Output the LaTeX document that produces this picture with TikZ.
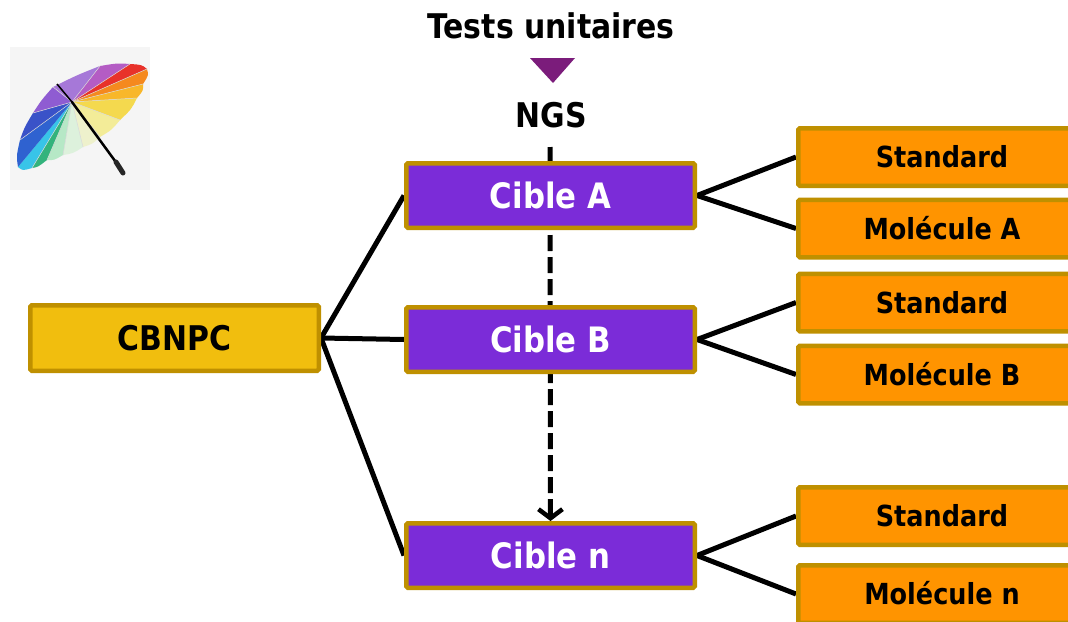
\documentclass[tikz,border=0pt]{standalone}
\usepackage{fontspec}
\setmainfont{DejaVu Sans}[FakeStretch=0.88]
\usetikzlibrary{arrows.meta,backgrounds,calc}
\definecolor{boxpurple}{HTML}{7B2CD8}
\definecolor{boxedge}{HTML}{BF9000}
\definecolor{boxgold}{HTML}{F1BE0E}
\definecolor{boxorange}{HTML}{FF9400}
\definecolor{tripurple}{HTML}{7B1C7B}
\definecolor{iconbg}{HTML}{F5F5F5}
\begin{document}
\begin{tikzpicture}[x=1pt,y=-1pt,
  box/.style={draw=boxedge, line width=4.5pt, rounded corners=1.5pt, inner sep=0pt, text depth=0pt},
  cible/.style={box, fill=boxpurple, text=white, font=\fontsize{35}{40}\selectfont\bfseries,
    minimum width=288.5pt, minimum height=64.5pt, text height=25.5pt},
  root/.style={box, fill=boxgold, text=black, font=\fontsize{34}{40}\selectfont\bfseries,
    minimum width=288.5pt, minimum height=65.5pt, text height=24.8pt},
  leaf/.style={box, fill=boxorange, text=black, font=\fontsize{29}{34}\selectfont\bfseries,
    minimum width=287.5pt, minimum height=57.5pt, text height=21.2pt},
  heading/.style={anchor=base, inner sep=0pt, font=\fontsize{34}{40}\selectfont\bfseries},
  link/.style={draw=black, line width=5pt},
  flow/.style={draw=black, line width=5pt, dash pattern=on 16pt off 6pt,
    -{Straight Barb[length=9pt,width=24pt,line width=4.5pt]}}
]
\useasboundingbox (0,0) rectangle (1068,621);

% umbrella icon: canopy panels fanning out from the hub, rims bulging slightly
\fill[iconbg] (10,47) rectangle (150,190);
\coordinate (hub) at (72,102);
\foreach \ax/\ay/\bx/\by/\c in {
  53/87/100/66/A678D8,
  100/66/130/64/B45CC4,
  130/64/147/69/E8322A,
  147/69/143/84/F5891E,
  143/84/137/98/F8B72A,
  137/98/120/120/F4D94E,
  120/120/100/137/F3EC98,
  100/137/83/147/EEF1CC,
  83/147/63/155/DDF1DC,
  63/155/47/160/B6E8C6,
  47/160/32/168/33B37C,
  32/168/18/167/38C4E8,
  18/167/20/140/2F62D0,
  20/140/33/113/3A52C8,
  33/113/53/87/8F5CD2} {
  \definecolor{panel}{HTML}{\c}
  \coordinate (rimmid) at ($(\ax,\ay)!0.5!(\bx,\by)$);
  \coordinate (rimctl) at ($(hub)!1.05!(rimmid)$);
  \fill[panel] (hub) -- (\ax,\ay) .. controls (rimctl) .. (\bx,\by) -- cycle;
}
\foreach \px/\py in {53/87,100/66,130/64,147/69,143/84,137/98,120/120,100/137,83/147,63/155,47/160,32/168,20/140,33/113}
  \draw[white!70!gray, line width=0.5pt] (hub) -- (\px,\py);
\draw[black, line width=2.5pt, line cap=round] (hub) -- (118,165);
\draw[black!85, line width=5pt, line cap=round] (116,162) -- (123,173);
\draw[black, line width=1.5pt] (hub) -- (57,84);

% title and marker
\node[heading] (title) at (551,38) {Tests unitaires};
\fill[tripurple] (530,58) -- (575,58) -- (553,83) -- cycle;
\node[heading] (ngs) at (551,127) {NGS};
\coordinate (ngsfoot) at (550,147);

% boxes
\node[root] (cbnpc) at (174.5,338) {CBNPC};
\node[cible] (ca) at (550.5,195.5) {Cible A};
\node[cible] (cb) at (550.5,339.5) {Cible B};
\node[cible] (cn) at (550.5,555.5) {Cible n};
\node[leaf] (sa) at (942,157) {Standard};
\node[leaf] (ma) at (942,228.5) {Molécule A};
\node[leaf] (sb) at (942,302.5) {Standard};
\node[leaf] (mb) at (942,374.5) {Molécule B};
\node[leaf] (sn) at (942,516) {Standard};
\node[leaf] (mn) at (942,594) {Molécule n};

% connectors behind the boxes
\begin{scope}[on background layer]
  \fill[white] (0,0) rectangle (1068,621);
  \draw[flow] (ngsfoot) -- (cn.north);
  \draw[link] (cbnpc.east) -- (ca.west);
  \draw[link] (cbnpc.east) -- (cb.west);
  \draw[link] (cbnpc.east) -- (cn.west);
  \draw[link] (ca.east) -- (sa.west);
  \draw[link] (ca.east) -- (ma.west);
  \draw[link] (cb.east) -- (sb.west);
  \draw[link] (cb.east) -- (mb.west);
  \draw[link] (cn.east) -- (sn.west);
  \draw[link] (cn.east) -- (mn.west);
\end{scope}
\end{tikzpicture}
\end{document}
